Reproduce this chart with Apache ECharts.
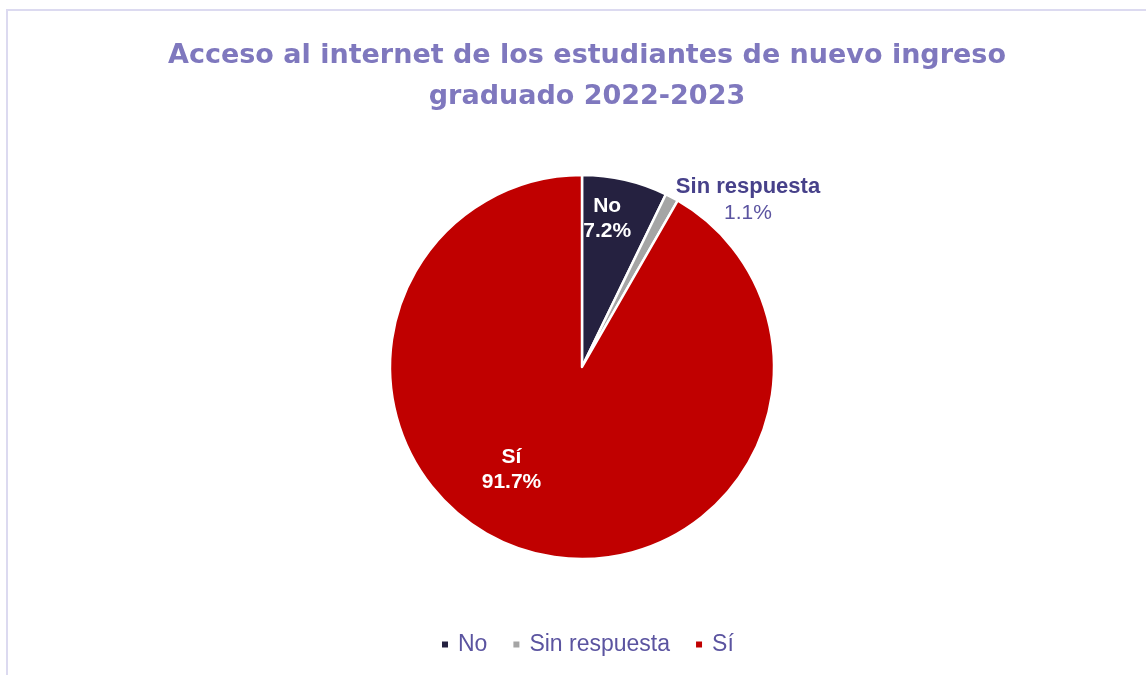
<!DOCTYPE html>
<html>
<head>
<meta charset="utf-8">
<script src="https://cdn.jsdelivr.net/npm/echarts@6/dist/echarts.min.js"></script>
<style>
  html, body { margin: 0; padding: 0; background: #fff; }
  #frame {
    position: absolute; left: 6px; top: 9px; width: 1160px; height: 700px;
    border: 2px solid #dcdaf0; box-sizing: border-box;
  }
  #chart { position: absolute; left: 0; top: 0; width: 1146px; height: 675px; }
</style>
</head>
<body>
<div id="frame"></div>
<div id="chart"></div>
<script>
// datos del gráfico
const categories = ['No', 'Sin respuesta', 'Sí']
const values = [7.2, 1.1, 91.7]
const colors = ['#252140', '#a5a5a5', '#c00000']
const titleLines = ['Acceso al internet de los estudiantes de nuevo ingreso', 'graduado 2022-2023']

const chart = echarts.init(document.getElementById('chart'))

const insideLabel = {
  show: true,
  position: 'inside',
  color: '#fff',
  fontFamily: 'Liberation Sans',
  fontWeight: 'bold',
  fontSize: 21,
  lineHeight: 25,
  formatter: p => p.name + '\n' + p.value.toFixed(1) + '%'
}

const option = {
  animation: false,
  title: {
    text: titleLines.join('\n'),
    left: 582,
    textAlign: 'center',
    top: 30,
    textStyle: {
      color: '#7f78be',
      fontFamily: 'DejaVu Sans',
      fontWeight: 'bold',
      fontSize: 27,
      lineHeight: 41
    }
  },
  legend: {
    bottom: 14,
    left: 435,
    icon: 'rect',
    itemWidth: 8,
    itemHeight: 8,
    itemGap: 24,
    textStyle: { color: '#5b54a0', fontFamily: 'Liberation Sans', fontSize: 23, padding: [0, 0, 0, 4] },
    data: categories
  },
  series: [{
    type: 'pie',
    center: [582, 367],
    radius: 192,
    startAngle: 90,
    clockwise: true,
    itemStyle: { borderColor: '#fff', borderWidth: 2.5 },
    labelLine: { show: false },
    data: categories.map((name, i) => {
      const d = { name, value: values[i], itemStyle: { color: colors[i] } }
      if (name === 'Sin respuesta') {
        d.label = {
          show: true,
          position: 'outside',
          offset: [-38, 16],
          fontFamily: 'Liberation Sans',
          fontSize: 22,
          lineHeight: 26,
          align: 'center',
          formatter: p => '{b|' + p.name + '}\n{v|' + p.value.toFixed(1) + '%}',
          rich: {
            b: { color: '#47418a', fontWeight: 'bold', fontSize: 22, lineHeight: 26, fontFamily: 'Liberation Sans', align: 'center' },
            v: { color: '#5b54a0', fontSize: 21, lineHeight: 26, fontFamily: 'Liberation Sans', align: 'center' }
          }
        }
        d.labelLine = { show: false }
      } else if (name === 'No') {
        d.label = Object.assign({}, insideLabel, { offset: [3, -52] })
      } else {
        d.label = Object.assign({}, insideLabel, { offset: [-45, 7] })
      }
      return d
    })
  }]
}

chart.setOption(option)
</script>
</body>
</html>
